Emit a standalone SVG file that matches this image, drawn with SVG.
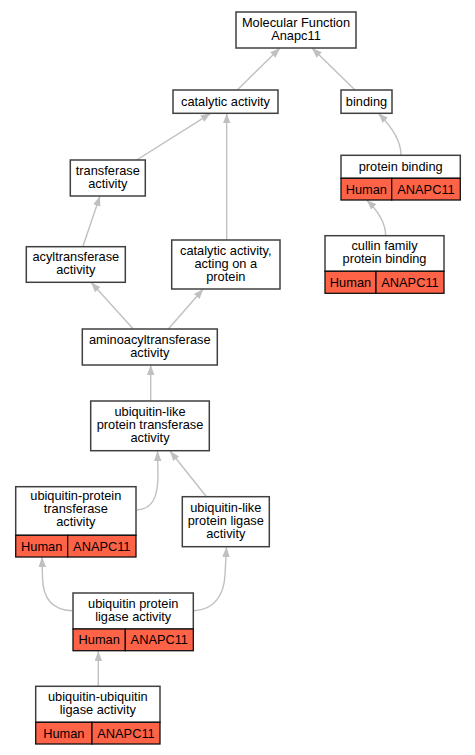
<svg xmlns="http://www.w3.org/2000/svg" width="475" height="755" viewBox="0 0 475 755">
<style>
text{font-family:"Liberation Sans",Arial,sans-serif;font-size:12.8px;fill:#000;text-anchor:middle}
.box{fill:#fff;stroke:#404040;stroke-width:1.5}
.red{fill:#ff6347;stroke:#111;stroke-width:1.3}
.edge{fill:none;stroke:#c0c0c0;stroke-width:1.4;marker-end:url(#arr)}
</style>
<defs>
<marker id="arr" markerUnits="userSpaceOnUse" markerWidth="11" markerHeight="8" refX="10" refY="3.75" orient="auto">
<path d="M0,0 L10,3.75 L0,7.5 z" fill="#c0c0c0"/>
</marker>
</defs>
<rect width="475" height="755" fill="#fff"/>
<g id="edges">
<path class="edge" d="M237.3,90 L280,48"/>
<path class="edge" d="M355,90 L312,48"/>
<path class="edge" d="M136.7,160 L210.7,113.3"/>
<path class="edge" d="M226.7,240 L226.7,113.3"/>
<path class="edge" d="M401,155 C401,142 393,128 378.3,113.3"/>
<path class="edge" d="M385.7,235.7 C385.7,224 378,211 366.7,200"/>
<path class="edge" d="M82.7,247 L100,196"/>
<path class="edge" d="M133.3,329 L91,282.3"/>
<path class="edge" d="M168.3,329 L203.3,289"/>
<path class="edge" d="M150.7,401 L150.7,365"/>
<path class="edge" d="M137,510 C152,509 158,498 158,475 L157.5,451"/>
<path class="edge" d="M206.7,497 L170,451"/>
<path class="edge" d="M72,610.7 C52,610 43,598 42.5,578 L42,557"/>
<path class="edge" d="M194,610.7 C214,610 224,595 225,575 L226.5,547"/>
<path class="edge" d="M98.3,686 L98.3,651"/>
</g>
<g id="n_mf">
<rect class="box" x="236" y="12" width="120" height="36"/>
<text x="296" y="26.5">Molecular Function</text>
<text x="296" y="39.5">Anapc11</text>
</g>
<g id="n_catalytic">
<rect class="box" x="173" y="90" width="105" height="23.3"/>
<text x="225.5" y="106">catalytic activity</text>
</g>
<g id="n_binding">
<rect class="box" x="341" y="90" width="51" height="23.3"/>
<text x="366.5" y="106">binding</text>
</g>
<g id="n_transferase">
<rect class="box" x="70.3" y="160" width="75" height="36"/>
<text x="107.8" y="174.5">transferase</text>
<text x="107.8" y="187.5">activity</text>
</g>
<g id="n_protein_binding">
<rect class="box" x="341" y="155.3" width="119.3" height="23"/>
<text x="400.7" y="171">protein binding</text>
<rect class="red" x="341" y="178.3" width="50.7" height="21.7"/>
<rect class="red" x="391.7" y="178.3" width="68.6" height="21.7"/>
<text x="366.3" y="193.6">Human</text>
<text x="426" y="193.6">ANAPC11</text>
</g>
<g id="n_acyl">
<rect class="box" x="26.3" y="246.7" width="99" height="35.6"/>
<text x="75.8" y="261">acyltransferase</text>
<text x="75.8" y="274">activity</text>
</g>
<g id="n_cat_protein">
<rect class="box" x="171.7" y="240" width="108.3" height="49"/>
<text x="225.8" y="254.8">catalytic activity,</text>
<text x="225.8" y="267.8">acting on a</text>
<text x="225.8" y="280.8">protein</text>
</g>
<g id="n_cullin">
<rect class="box" x="325" y="235.7" width="119" height="35.6"/>
<text x="384.5" y="250">cullin family</text>
<text x="384.5" y="263">protein binding</text>
<rect class="red" x="325" y="271.3" width="51" height="22"/>
<rect class="red" x="376" y="271.3" width="68" height="22"/>
<text x="350.5" y="286.8">Human</text>
<text x="410" y="286.8">ANAPC11</text>
</g>
<g id="n_aminoacyl">
<rect class="box" x="82.3" y="329" width="135" height="36"/>
<text x="149.8" y="343.5">aminoacyltransferase</text>
<text x="149.8" y="356.5">activity</text>
</g>
<g id="n_ulpt">
<rect class="box" x="90.7" y="401" width="118.6" height="49.7"/>
<text x="150" y="415.8">ubiquitin-like</text>
<text x="150" y="428.8">protein transferase</text>
<text x="150" y="441.8">activity</text>
</g>
<g id="n_upt">
<rect class="box" x="15.7" y="486.7" width="120.3" height="48.6"/>
<text x="75.8" y="500">ubiquitin-protein</text>
<text x="75.8" y="513">transferase</text>
<text x="75.8" y="526">activity</text>
<rect class="red" x="15.7" y="535.3" width="52" height="21.7"/>
<rect class="red" x="67.7" y="535.3" width="68.3" height="21.7"/>
<text x="41.7" y="550.6">Human</text>
<text x="101.8" y="550.6">ANAPC11</text>
</g>
<g id="n_ulpl">
<rect class="box" x="182.3" y="496.7" width="87" height="50"/>
<text x="225.8" y="511.5">ubiquitin-like</text>
<text x="225.8" y="524.5">protein ligase</text>
<text x="225.8" y="537.5">activity</text>
</g>
<g id="n_upl">
<rect class="box" x="73" y="593" width="120.3" height="36"/>
<text x="133.2" y="607.5">ubiquitin protein</text>
<text x="133.2" y="620.5">ligase activity</text>
<rect class="red" x="73" y="629" width="52.3" height="21.7"/>
<rect class="red" x="125.3" y="629" width="68" height="21.7"/>
<text x="99.2" y="644.3">Human</text>
<text x="159.3" y="644.3">ANAPC11</text>
</g>
<g id="n_uul">
<rect class="box" x="35.7" y="686.3" width="124.3" height="36"/>
<text x="97.8" y="700.8">ubiquitin-ubiquitin</text>
<text x="97.8" y="713.8">ligase activity</text>
<rect class="red" x="35.7" y="722.3" width="56.3" height="21.7"/>
<rect class="red" x="92" y="722.3" width="68" height="21.7"/>
<text x="63.8" y="737.6">Human</text>
<text x="126" y="737.6">ANAPC11</text>
</g>
</svg>
